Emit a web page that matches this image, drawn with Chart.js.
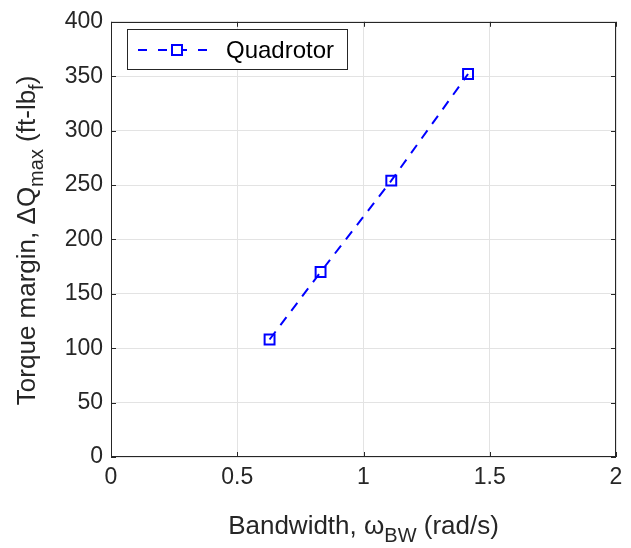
<!DOCTYPE html>
<html>
<head>
<meta charset="utf-8">
<script src="https://cdn.jsdelivr.net/npm/chart.js@4.4.1/dist/chart.umd.min.js"></script>
<style>
  html, body { margin: 0; padding: 0; background: #ffffff; }
  #wrap { width: 631px; height: 548px; }
  canvas { display: block; }
</style>
</head>
<body>
<div id="wrap"><canvas id="c" width="631" height="548"></canvas></div>
<script>
// ---- data ----
const bandwidth = [0.628, 0.83, 1.11, 1.414];          // rad/s
const torqueMargin = [108, 170, 254, 352];             // ft-lbf
const seriesName = 'Quadrotor';
const xTicks = [0, 0.5, 1, 1.5, 2];
const yTicks = [0, 50, 100, 150, 200, 250, 300, 350, 400];

const FONT = '"Liberation Sans", Arial, Helvetica, sans-serif';
const AXIS = '#262626';
const BLUE = '#0000ff';
const DASH = [10, 8];

function drawRich(ctx, parts, size, subSize, subShift) {
  let w = 0;
  const widths = parts.map(p => {
    ctx.font = (p.sub ? subSize : size) + 'px ' + FONT;
    const m = ctx.measureText(p.t).width;
    w += m;
    return m;
  });
  let x = -w / 2;
  parts.forEach((p, i) => {
    ctx.font = (p.sub ? subSize : size) + 'px ' + FONT;
    ctx.fillText(p.t, x, p.sub ? subShift : 0);
    x += widths[i];
  });
}

const decor = {
  id: 'decor',
  afterDraw(chart) {
    const ctx = chart.ctx;
    const a = chart.chartArea;
    const xs = chart.scales.x, ys = chart.scales.y;
    ctx.save();
    // box
    ctx.strokeStyle = AXIS;
    ctx.lineWidth = 1;
    ctx.setLineDash([]);
    ctx.strokeRect(Math.round(a.left) + 0.5, Math.round(a.top) + 0.5,
                   Math.round(a.right - a.left) - 1, Math.round(a.bottom - a.top) - 1);
    // inward ticks
    const tl = 5;
    ctx.beginPath();
    xTicks.forEach(v => {
      const px = Math.round(xs.getPixelForValue(v)) + 0.5;
      ctx.moveTo(px, a.bottom); ctx.lineTo(px, a.bottom - tl);
      ctx.moveTo(px, a.top); ctx.lineTo(px, a.top + tl);
    });
    yTicks.forEach(v => {
      const py = Math.round(ys.getPixelForValue(v)) + 0.5;
      ctx.moveTo(a.left, py); ctx.lineTo(a.left + tl, py);
      ctx.moveTo(a.right, py); ctx.lineTo(a.right - tl, py);
    });
    ctx.stroke();

    // axis titles
    ctx.fillStyle = AXIS;
    ctx.textBaseline = 'alphabetic';
    ctx.textAlign = 'left';
    ctx.save();
    ctx.translate((a.left + a.right) / 2, 534);
    drawRich(ctx, [
      { t: 'Bandwidth, ' }, { t: 'ω' }, { t: 'BW', sub: true }, { t: ' (rad/s)' }
    ], 26, 20, 8);
    ctx.restore();

    ctx.save();
    ctx.translate(35, (a.top + a.bottom) / 2 + 1);
    ctx.rotate(-Math.PI / 2);
    drawRich(ctx, [
      { t: 'Torque margin, ΔQ' }, { t: 'max', sub: true }, { t: ' (ft-lb' }, { t: 'f', sub: true }, { t: ')' }
    ], 26, 20, 8);
    ctx.restore();

    // legend
    const lx = 127, ly = 29, lw = 220, lh = 40;
    ctx.fillStyle = '#ffffff';
    ctx.fillRect(lx, ly, lw, lh);
    ctx.strokeStyle = AXIS;
    ctx.lineWidth = 1;
    ctx.strokeRect(lx + 0.5, ly + 0.5, lw, lh);
    const cy = ly + 21;
    ctx.strokeStyle = BLUE;
    ctx.lineWidth = 2;
    ctx.setLineDash([9, 11]);
    ctx.beginPath();
    ctx.moveTo(138, cy); ctx.lineTo(212, cy);
    ctx.stroke();
    ctx.setLineDash([]);
    ctx.fillStyle = '#ffffff';
    ctx.fillRect(171, cy - 6, 12, 12);
    ctx.strokeRect(172, cy - 5, 10, 10);
    ctx.fillStyle = '#000000';
    ctx.font = '24px ' + FONT;
    ctx.textBaseline = 'middle';
    ctx.fillText(seriesName, 226, cy + 1);
    ctx.restore();
  }
};

const points = bandwidth.map((x, i) => ({ x: x, y: torqueMargin[i] }));

new Chart(document.getElementById('c'), {
  type: 'line',
  data: {
    datasets: [{
      label: seriesName,
      data: points,
      borderColor: BLUE,
      borderWidth: 2,
      borderDash: DASH,
      fill: false,
      tension: 0,
      pointStyle: 'rect',
      pointRadius: 7,
      pointBorderWidth: 2,
      pointBorderColor: BLUE,
      pointBackgroundColor: 'rgba(255,255,255,0)'
    }]
  },
  options: {
    responsive: false,
    animation: false,
    devicePixelRatio: 1,
    layout: { padding: { left: 0, right: 15, top: 13, bottom: 0 } },
    plugins: { legend: { display: false }, tooltip: { enabled: false } },
    scales: {
      x: {
        type: 'linear', min: 0, max: 2,
        afterBuildTicks: s => { s.ticks = xTicks.map(v => ({ value: v })); },
        ticks: { font: { family: FONT, size: 23 }, color: AXIS, padding: 7, maxRotation: 0,
                 callback: v => String(v) },
        grid: { color: '#e3e3e3', drawTicks: false },
        border: { display: false },
        afterFit: s => { s.height = 91; }
      },
      y: {
        type: 'linear', min: 0, max: 400,
        afterBuildTicks: s => { s.ticks = yTicks.map(v => ({ value: v })); },
        ticks: { font: { family: FONT, size: 23 }, color: AXIS, padding: 8,
                 callback: v => String(v) },
        grid: { color: '#e3e3e3', drawTicks: false },
        border: { display: false },
        afterFit: s => { s.width = 111; }
      }
    }
  },
  plugins: [decor]
});
</script>
</body>
</html>
